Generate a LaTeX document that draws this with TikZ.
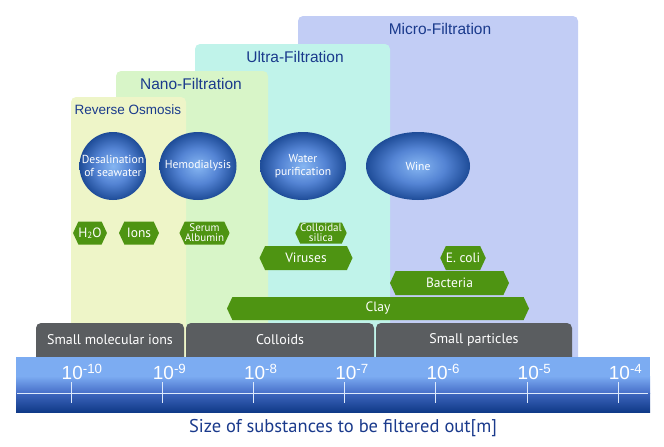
\documentclass[tikz,border=0pt]{standalone}
\usepackage{fontspec}
\setmainfont{Liberation Sans}
\newfontfamily\condfont{PT Sans}
\usetikzlibrary{shapes.geometric}
\usetikzlibrary{shapes.symbols}
\definecolor{microbg}{RGB}{194,205,245}
\definecolor{ultrabg}{RGB}{192,243,234}
\definecolor{nanobg}{RGB}{216,245,200}
\definecolor{robg}{RGB}{238,245,200}
\definecolor{titleblue}{RGB}{26,58,140}
\definecolor{taggreen}{RGB}{78,148,18}
\definecolor{tabgray}{RGB}{90,93,96}
\definecolor{ballin}{RGB}{134,182,242}
\definecolor{ballmid}{RGB}{84,132,212}
\definecolor{ballout}{RGB}{30,76,152}
\definecolor{barlight}{RGB}{124,172,242}
\definecolor{barmid}{RGB}{70,110,200}
\definecolor{bardark}{RGB}{16,58,136}
\pgfdeclareradialshading{ball}{\pgfpoint{0bp}{0bp}}{color(0bp)=(ballin); color(13bp)=(ballmid); color(25bp)=(ballout); color(50bp)=(ballout)}
\tikzset{blob/.style = {ellipse, shading=ball, inner sep = 0, minimum height = 68}}
\tikzset{blobtext/.style = {text = white, align = center, inner sep = 0, font = \condfont\fontsize{11.6}{12.5}\selectfont}}
\tikzset{tag/.style = {signal, signal to = west and east, signal pointer angle = 130, fill = taggreen, text = white, inner sep = 0, align = center, font = \condfont\fontsize{13.5}{13.5}\selectfont}}
\tikzset{tagsmall/.style = {tag, font = \condfont\fontsize{11}{10}\selectfont}}
\tikzset{boxtitle/.style = {text = titleblue, font = \fontsize{15.5}{15.5}\selectfont}}

\begin{document}
\begin{tikzpicture}[x = 1pt, y = -1pt]
      \useasboundingbox (0, 0) rectangle (664, 447);
      % filtration ranges
      \fill [microbg, rounded corners = 5] (298, 16) rectangle (578, 370);
      \fill [ultrabg, rounded corners = 5] (195, 44) rectangle (390, 370);
      \fill [nanobg, rounded corners = 5] (116, 71) rectangle (268, 370);
      \fill [robg, rounded corners = 5] (71, 97) rectangle (186, 370);
      \node [boxtitle] (micro) at (440, 29) {Micro-Filtration};
      \node [boxtitle] (ultra) at (295, 57) {Ultra-Filtration};
      \node [boxtitle] (nano) at (191, 84) {Nano-Filtration};
      \node [boxtitle, font = \fontsize{13.5}{13.5}\selectfont] (ro) at (128, 110) {Reverse Osmosis};
      % applications
      \node [blob, minimum width = 67] (desal) at (113, 166) {};
      \node [blob, minimum width = 77] (hemo) at (198, 166) {};
      \node [blob, minimum width = 86] (water) at (303, 166) {};
      \node [blob, minimum width = 104] (wine) at (418, 166) {};
      \node [blobtext] (desal-t) at (desal) {Desalination\\of seawater};
      \node [blobtext] (hemo-t) at (hemo) {Hemodialysis};
      \node [blobtext] (water-t) at (water) {Water\\purification};
      \node [blobtext] (wine-t) at (wine) {Wine};
      % substances
      \node [tag, minimum width = 30, minimum height = 23] (h2o) at (90, 233) {H{\fontsize{9}{9}\selectfont\raisebox{-1pt}{2}}O};
      \node [tag, minimum width = 40, minimum height = 23] (ions) at (139, 233) {Ions};
      \node [tagsmall, minimum width = 45, minimum height = 23] (serum) at (204.5, 233) {Serum\\Albumin};
      \node [tagsmall, minimum width = 43, minimum height = 21] (silica) at (321, 233) {Colloidal\\silica};
      \node [tag, minimum width = 93, minimum height = 24] (viruses) at (306, 258) {Viruses};
      \node [tag, minimum width = 40, minimum height = 24] (ecoli) at (463, 258) {E. coli};
      \node [tag, minimum width = 119, minimum height = 24] (bacteria) at (449.5, 283) {Bacteria};
      \node [tag, minimum width = 302, minimum height = 23] (clay) at (378, 308.5) {Clay};
      % size classes
      \foreach \a/\b/\t [count = \i] in {36/184/Small molecular ions, 186/374/Colloids, 376/572/Small particles} {
        \fill [tabgray, rounded corners = 5] (\a, 323) rectangle (\b, 370);
        \node [text = white, font = \condfont\fontsize{14}{14}\selectfont] (class\i) at ({(\a + \b) / 2}, 340) {\t};
      }
      % size axis
      \fill [barlight] (16, 357) rectangle (650, 376);
      \shade [top color = barlight, bottom color = barmid] (16, 376) rectangle (650, 393);
      \shade [top color = barmid!85!bardark, bottom color = bardark] (16, 393) rectangle (650, 412);
      \draw [white!75!barlight, line width = 0.8] (17, 393) -- (648, 393);
      \foreach \e [count = \i from 0] in {10,9,8,7,6,5,4} {
        \draw [white!75!barlight, line width = 0.8] (71 + 91.2 * \i, 382) -- (71 + 91.2 * \i, 403);
        \node [anchor = base west, inner sep = 0, text = white, font = \fontsize{19}{19}\selectfont] (exp\e) at (61.5 + 91.2 * \i, 379.5) {10\textsuperscript{-\e}};
      }
      \node [text = titleblue, font = \condfont\fontsize{18.5}{18.5}\selectfont] (axis) at (343, 428) {Size of substances to be filtered out[m]};
    \end{tikzpicture}
\end{document}
